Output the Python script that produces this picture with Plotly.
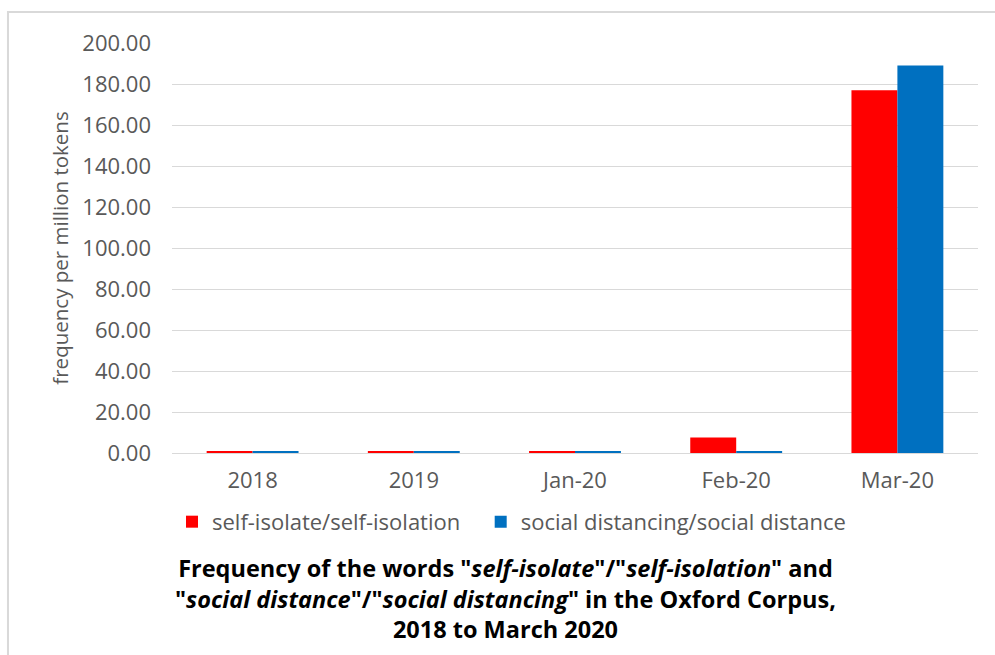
import plotly.graph_objects as go

categories = ["2018", "2019", "Jan-20", "Feb-20", "Mar-20"]
self_isolate = [0.8, 0.8, 0.8, 7.5, 177.0]
social_distancing = [0.8, 0.8, 0.8, 0.8, 189.0]
y_ticks = [0, 20, 40, 60, 80, 100, 120, 140, 160, 180, 200]
y_tick_labels = [f"{v:.2f}" for v in y_ticks]
title_lines = [
    "Frequency of the words \"<i>self-isolate</i>\"/\"<i>self-isolation</i>\" and",
    "\"<i>social distance</i>\"/\"<i>social distancing</i>\" in the Oxford Corpus,",
    "2018 to March 2020",
]

FONT = "Open Sans"
GRAY = "#595959"

fig = go.Figure()
fig.add_trace(go.Bar(x=categories, y=self_isolate, name="self-isolate/self-isolation",
                     marker=dict(color="#FF0000", line=dict(width=0)), legend="legend"))
fig.add_trace(go.Bar(x=categories, y=social_distancing, name="social distancing/social distance",
                     marker=dict(color="#0070C0", line=dict(width=0)), legend="legend2"))

legend_common = dict(orientation="h", xanchor="left", y=-0.168, yanchor="middle",
                     font=dict(size=22, color=GRAY), itemwidth=30,
                     bgcolor="rgba(0,0,0,0)")

fig.update_layout(
    width=995, height=655,
    paper_bgcolor="white", plot_bgcolor="white",
    margin=dict(l=172, r=17, t=43, b=202),
    barmode="group", bargap=0.43, bargroupgap=0,
    font=dict(family=FONT, color=GRAY, size=22),
    showlegend=True,
    legend=dict(x=0.0, **legend_common),
    legend2=dict(x=0.383, **legend_common),
    xaxis=dict(showgrid=False, showline=True, linecolor="#d9d9d9", linewidth=1,
               ticks="", tickfont=dict(size=22, color=GRAY), ticklabelstandoff=8,
               automargin=False),
    yaxis=dict(range=[0, 200], tickvals=y_ticks, ticktext=y_tick_labels,
               showgrid=True, gridcolor="#d9d9d9", gridwidth=1, zeroline=False,
               showline=False, ticks="", tickfont=dict(size=22, color=GRAY),
               ticklabelstandoff=20, automargin=False,
               title=dict(text="frequency per million tokens", font=dict(size=20.5, color=GRAY),
                          standoff=8)),
    shapes=[dict(type="path", xref="paper", yref="paper",
                 path="M -0.2035 -0.52 L -0.2035 1.0756 L 1.03 1.0756",
                 line=dict(color="#d9d9d9", width=2))],
    annotations=[dict(
        xref="paper", yref="paper", x=0.414, y=-0.3537, xanchor="center", yanchor="middle",
        showarrow=False, align="center",
        font=dict(family=FONT, size=23.5, color="#000000"),
        text="<b>" + "<br>".join(title_lines) + "</b>")],
)

fig.write_html("out.html", config={"displayModeBar": False},
               post_script="document.body.style.margin='0';")
